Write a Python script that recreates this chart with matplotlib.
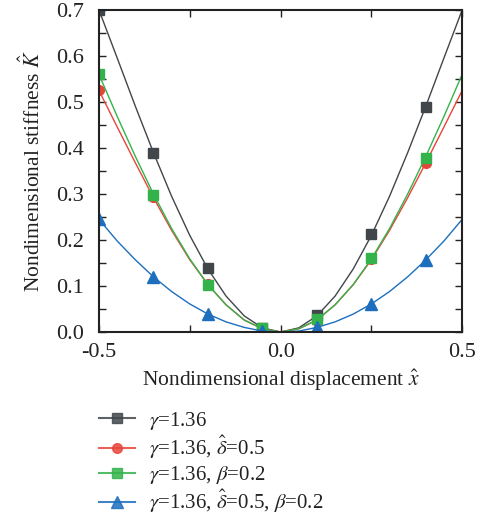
import numpy as np
import matplotlib
matplotlib.use("Agg")
import matplotlib.pyplot as plt
from matplotlib.ticker import MultipleLocator, FixedLocator

plt.rcParams['font.family'] = ['Liberation Serif', 'DejaVu Serif']
plt.rcParams['mathtext.fontset'] = 'stix'

# curve values, step 0.05
x_line = [-0.5, -0.45, -0.4, -0.35, -0.3, -0.25, -0.2, -0.15, -0.1, -0.05, 0.0,
          0.05, 0.1, 0.15, 0.2, 0.25, 0.3, 0.35, 0.4, 0.45, 0.5]
k_gamma = [0.700, 0.596, 0.491, 0.390, 0.295, 0.210, 0.137, 0.078, 0.035, 0.009, 0.0,
           0.009, 0.035, 0.078, 0.137, 0.210, 0.295, 0.390, 0.491, 0.596, 0.700]
k_delta = [0.525, 0.446, 0.368, 0.292, 0.221, 0.157, 0.103, 0.059, 0.026, 0.007, 0.0,
           0.007, 0.026, 0.059, 0.103, 0.157, 0.221, 0.292, 0.368, 0.446, 0.525]
k_beta = [0.560, 0.469, 0.382, 0.300, 0.225, 0.159, 0.103, 0.059, 0.026, 0.007, 0.0,
          0.007, 0.026, 0.059, 0.103, 0.159, 0.225, 0.300, 0.382, 0.469, 0.560]
k_both = [0.245, 0.198, 0.157, 0.120, 0.088, 0.061, 0.039, 0.022, 0.010, 0.002, 0.0,
          0.002, 0.010, 0.022, 0.039, 0.061, 0.088, 0.120, 0.157, 0.198, 0.245]

# marker points
x_mark = [-0.5, -0.35, -0.2, -0.05, 0.1, 0.25, 0.4]
m_gamma = [0.700, 0.390, 0.140, 0.008, 0.036, 0.213, 0.490]
m_delta = [0.525, 0.293, 0.105, 0.007, 0.025, 0.158, 0.367]
m_beta = [0.560, 0.298, 0.103, 0.008, 0.028, 0.160, 0.378]
m_both = [0.245, 0.120, 0.040, 0.003, 0.010, 0.060, 0.157]

labels = [r'$\gamma$=1.36',
          r'$\gamma$=1.36, $\hat{\delta}$=0.5',
          r'$\gamma$=1.36, $\beta$=0.2',
          r'$\gamma$=1.36, $\hat{\delta}$=0.5, $\beta$=0.2']
colors = ['#41464b', '#e8453a', '#35b34b', '#1d6fbe']
markers = ['s', 'o', 's', '^']
msizes = [6.5, 7, 6.5, 8.5]

fig = plt.figure(figsize=(4.85, 5.2), dpi=100)
ax = fig.add_axes([0.204, 0.3615, 0.749, 0.6195])

lines = [k_gamma, k_delta, k_beta, k_both]
marks = [m_gamma, m_delta, m_beta, m_both]
handles = []
for yl, ym, c, m, ms, lab in zip(lines, marks, colors, markers, msizes, labels):
    ax.plot(x_line, yl, color=c, lw=1.0)
    ax.plot(x_mark, ym, ls='none', marker=m, ms=ms, color=c, mec=c)
    h, = plt.plot([], [], color=c, lw=1.5, marker=m, ms=ms, mec=c, alpha=0.85)
    handles.append(h)

ax.set_xlim(-0.5, 0.5)
ax.set_ylim(0, 0.7)
ax.xaxis.set_major_locator(FixedLocator([-0.5, 0.0, 0.5]))
ax.xaxis.set_minor_locator(FixedLocator([-0.25, 0.25]))
ax.set_xticklabels(['-0.5', '0.0', '0.5'])
ax.yaxis.set_major_locator(MultipleLocator(0.1))
ax.yaxis.set_minor_locator(MultipleLocator(0.05))
ax.tick_params(which='both', direction='in', top=True, right=True,
               labelsize=16, color='#222222', labelcolor='#222222')
ax.tick_params(which='major', length=5, width=1)
ax.tick_params(which='minor', length=5, width=1)
ax.tick_params(axis='y', pad=11)
ax.tick_params(axis='x', pad=8)
for s in ax.spines.values():
    s.set_linewidth(1.5)
    s.set_color('#222222')

ax.set_xlabel(r'Nondimensional displacement $\hat{x}$', fontsize=15.5,
              color='#222222', labelpad=4)
ax.set_ylabel(r'Nondimensional stiffness $\hat{K}$', fontsize=15.5,
              color='#222222', labelpad=8)

fig.legend(handles, labels, loc='upper left', bbox_to_anchor=(0.183, 0.232),
           frameon=False, fontsize=15, handlelength=1.7, handletextpad=0.7,
           labelspacing=0.12, borderpad=0, labelcolor='#222222')

fig.savefig('out.png', dpi=100)
